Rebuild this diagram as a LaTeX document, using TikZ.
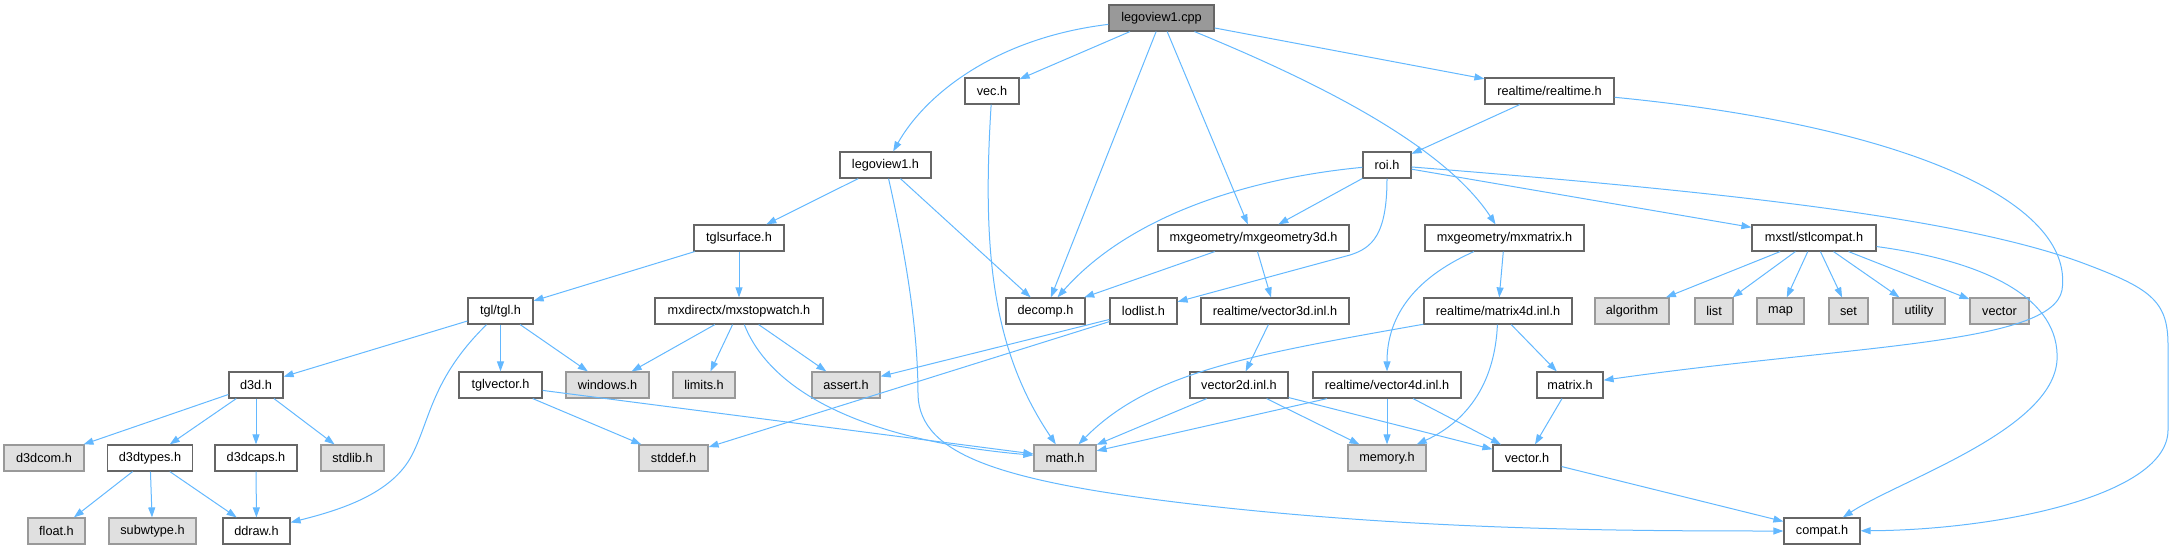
\documentclass[tikz,border=0pt]{standalone}
\usepackage{fontspec}
\setmainfont{Liberation Sans}
\usetikzlibrary{arrows.meta}
\definecolor{edgeblue}{HTML}{63B8FF}
\definecolor{wborder}{HTML}{666666}
\definecolor{gborder}{HTML}{999999}
\definecolor{gfill}{HTML}{E0E0E0}
\definecolor{rfill}{HTML}{999999}
\begin{document}
\begin{tikzpicture}[x=1pt,y=-1pt,
  box/.style={rectangle, minimum height=26pt, inner sep=0pt, line width=1.2pt, font=\fontsize{12.7}{15}\selectfont},
  wnode/.style={box, draw=wborder, fill=white},
  gnode/.style={box, draw=gborder, fill=gfill},
  rnode/.style={box, draw=wborder, fill=rfill},
  dep/.style={draw=edgeblue, line width=1pt, -{Triangle[length=10pt,width=7pt]}}]
\useasboundingbox (0,0) rectangle (2173,549);
% rank 0
\node[rnode, minimum width=105pt] (root) at (1161.5,18) {legoview1.cpp};
% rank 1
\node[wnode, minimum width=54pt] (vec) at (992,91) {vec.h};
\node[wnode, minimum width=129pt] (rt) at (1549.5,91) {realtime/realtime.h};
% rank 2
\node[wnode, minimum width=91pt] (lv) at (885.5,165) {legoview1.h};
\node[wnode, minimum width=48pt] (roi) at (1387,165) {roi.h};
% rank 3
\node[wnode, minimum width=90pt] (ts) at (739,238) {tglsurface.h};
\node[wnode, minimum width=191pt] (g3d) at (1253.5,238) {mxgeometry/mxgeometry3d.h};
\node[wnode, minimum width=159pt] (mxm) at (1504.5,238) {mxgeometry/mxmatrix.h};
\node[wnode, minimum width=124pt] (stl) at (1814,238) {mxstl/stlcompat.h};
% rank 4
\node[wnode, minimum width=65pt] (tgl) at (500.5,311) {tgl/tgl.h};
\node[wnode, minimum width=168pt] (sw) at (739,311) {mxdirectx/mxstopwatch.h};
\node[wnode, minimum width=79pt] (dec) at (1045.5,311) {decomp.h};
\node[wnode, minimum width=67pt] (lod) at (1143.5,311) {lodlist.h};
\node[wnode, minimum width=148pt] (v3d) at (1275,311) {realtime/vector3d.inl.h};
\node[wnode, minimum width=148pt] (m4d) at (1498,311) {realtime/matrix4d.inl.h};
\node[gnode, minimum width=74pt] (alg) at (1632,311) {algorithm};
\node[gnode, minimum width=38pt] (lst) at (1714,311) {list};
\node[gnode, minimum width=47pt] (map) at (1780.5,311) {map};
\node[gnode, minimum width=39pt] (nset) at (1848.5,311) {set};
\node[gnode, minimum width=52pt] (util) at (1919,311) {utility};
\node[gnode, minimum width=59pt] (vect) at (1999.5,311) {vector};
% rank 5
\node[wnode, minimum width=54pt] (d3d) at (256,385) {d3d.h};
\node[wnode, minimum width=83pt] (tv) at (500.5,385) {tglvector.h};
\node[gnode, minimum width=83pt] (win) at (607.5,385) {windows.h};
\node[gnode, minimum width=62pt] (lim) at (704,385) {limits.h};
\node[gnode, minimum width=68pt] (asrt) at (846,385) {assert.h};
\node[wnode, minimum width=98pt] (v2d) at (1239,385) {vector2d.inl.h};
\node[wnode, minimum width=148pt] (v4d) at (1387,385) {realtime/vector4d.inl.h};
\node[wnode, minimum width=66pt] (mat) at (1570,385) {matrix.h};
% rank 6
\node[gnode, minimum width=80pt] (dcom) at (44,458) {d3dcom.h};
\node[wnode, minimum width=85pt] (dtyp) at (150,458) {d3dtypes.h};
\node[wnode, minimum width=82pt] (dcap) at (256,458) {d3dcaps.h};
\node[gnode, minimum width=63pt] (stdl) at (352.5,458) {stdlib.h};
\node[gnode, minimum width=69pt] (stdd) at (673.5,458) {stddef.h};
\node[gnode, minimum width=62pt] (math) at (1065,458) {math.h};
\node[gnode, minimum width=78pt] (mem) at (1387,458) {memory.h};
\node[wnode, minimum width=68pt] (vech) at (1527,458) {vector.h};
% rank 7
\node[gnode, minimum width=57pt] (flt) at (56.5,531) {float.h};
\node[gnode, minimum width=87pt] (subw) at (152.5,531) {subwtype.h};
\node[wnode, minimum width=67pt] (ddr) at (256.5,531) {ddraw.h};
\node[wnode, minimum width=76pt] (cmp) at (1822,531) {compat.h};

% legoview1.cpp
\draw[dep] (root) .. controls (995,38) and (925,95) .. (lv);
\draw[dep] (root) -- (vec);
\draw[dep] (root) -- (dec);
\draw[dep] (root) -- (g3d);
\draw[dep] (root) .. controls (1300,75) and (1440,140) .. (mxm);
\draw[dep] (root) -- (rt);
% vec.h
\draw[dep] (vec) .. controls (982,250) and (992,350) .. (math);
% realtime.h
\draw[dep] (rt) -- (roi);
\draw[dep] (rt) .. controls (1900,125) and (2075,200) .. (2062,290) .. controls (2052,345) and (1850,345) .. (mat);
% legoview1.h
\draw[dep] (lv) -- (ts);
\draw[dep] (lv) -- (dec);
\draw[dep] (lv) .. controls (908,265) and (918,335) .. (918,395) .. controls (920,455) and (1000,482) .. (1200,505) .. controls (1420,530) and (1620,531) .. (cmp);
% roi.h
\draw[dep] (roi) .. controls (1250,178) and (1130,215) .. (dec);
\draw[dep] (roi) -- (g3d);
\draw[dep] (roi) .. controls (1387,235) and (1372,248) .. (1350,255) -- (lod);
\draw[dep] (roi) -- (stl);
\draw[dep] (roi) .. controls (1700,190) and (1950,215) .. (2080,262) .. controls (2150,288) and (2168,300) .. (2168,345) -- (2168,430) .. controls (2168,495) and (2000,530) .. (cmp);
% stlcompat.h
\draw[dep] (stl) -- (alg);
\draw[dep] (stl) -- (lst);
\draw[dep] (stl) -- (map);
\draw[dep] (stl) -- (nset);
\draw[dep] (stl) -- (util);
\draw[dep] (stl) -- (vect);
\draw[dep] (stl) .. controls (1990,262) and (2060,300) .. (2057,360) .. controls (2053,430) and (1900,480) .. (cmp);
% mxgeometry3d.h
\draw[dep] (g3d) -- (dec);
\draw[dep] (g3d) -- (v3d);
% mxmatrix.h
\draw[dep] (mxm) -- (m4d);
\draw[dep] (mxm) .. controls (1410,280) and (1387,320) .. (v4d);
% vector3d.inl.h
\draw[dep] (v3d) -- (v2d);
% matrix4d.inl.h
\draw[dep] (m4d) .. controls (1250,355) and (1150,372) .. (math);
\draw[dep] (m4d) .. controls (1495,380) and (1470,420) .. (mem);
\draw[dep] (m4d) -- (mat);
% vector2d.inl.h
\draw[dep] (v2d) -- (math);
\draw[dep] (v2d) -- (mem);
\draw[dep] (v2d) -- (vech);
% vector4d.inl.h
\draw[dep] (v4d) -- (math);
\draw[dep] (v4d) -- (mem);
\draw[dep] (v4d) -- (vech);
% matrix.h, vector.h
\draw[dep] (mat) -- (vech);
\draw[dep] (vech) -- (cmp);
% lodlist.h
\draw[dep] (lod) -- (asrt);
\draw[dep] (lod) -- (stdd);
% tglsurface.h
\draw[dep] (ts) -- (tgl);
\draw[dep] (ts) -- (sw);
% tgl/tgl.h
\draw[dep] (tgl) -- (d3d);
\draw[dep] (tgl) .. controls (432,378) and (430,420) .. (412,455) .. controls (392,494) and (340,510) .. (ddr);
\draw[dep] (tgl) -- (tv);
\draw[dep] (tgl) -- (win);
% mxstopwatch.h
\draw[dep] (sw) -- (win);
\draw[dep] (sw) -- (lim);
\draw[dep] (sw) -- (asrt);
\draw[dep] (sw) .. controls (770,390) and (860,440) .. (math);
% tglvector.h
\draw[dep] (tv) -- (stdd);
\draw[dep] (tv) -- (math);
% d3d.h
\draw[dep] (d3d) -- (dcom);
\draw[dep] (d3d) -- (dtyp);
\draw[dep] (d3d) -- (dcap);
\draw[dep] (d3d) -- (stdl);
% d3dtypes.h
\draw[dep] (dtyp) -- (flt);
\draw[dep] (dtyp) -- (subw);
\draw[dep] (dtyp) -- (ddr);
% d3dcaps.h
\draw[dep] (dcap) -- (ddr);
\end{tikzpicture}
\end{document}
